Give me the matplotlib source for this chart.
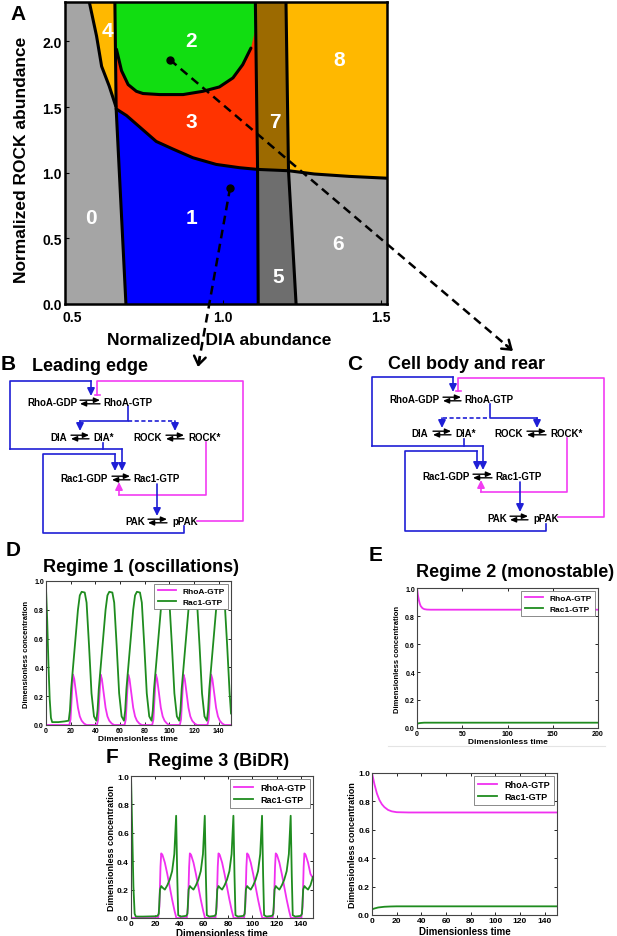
import matplotlib
matplotlib.use('Agg')
import matplotlib.pyplot as plt
from matplotlib.transforms import ScaledTranslation

plt.rcParams['font.family'] = ['Liberation Sans', 'DejaVu Sans']
plt.rcParams['font.weight'] = 'bold'
plt.rcParams['axes.labelweight'] = 'bold'

W, H = 617, 937

# ---------------- panel A: regime map (boundaries) ----------------
b04_x = [0.577, 0.600, 0.616, 0.640, 0.661]
b04_y = [2.3, 2.04, 1.81, 1.66, 1.505]
left_x = [0.658, 0.662, 0.693]
left_y = [2.3, 1.49, 0.0]
green_x = [0.660, 0.663, 0.679, 0.700, 0.726, 0.747, 0.800, 0.874, 0.937, 0.989, 1.032, 1.063, 1.089]
green_y = [2.3, 1.94, 1.777, 1.671, 1.62, 1.603, 1.595, 1.595, 1.62, 1.653, 1.722, 1.823, 1.949]
rb_x = [0.662, 0.695, 0.737, 0.789, 0.842, 0.905, 0.979, 1.053, 1.110]
rb_y = [1.486, 1.435, 1.347, 1.238, 1.18, 1.114, 1.063, 1.038, 1.025]
s7l_x, s7l_y = [1.103, 1.110], [2.3, 1.025]
s7r_x, s7r_y = [1.200, 1.208], [2.3, 1.015]
s5l_x, s5l_y = [1.110, 1.112], [1.025, 0.0]
s5r_x, s5r_y = [1.208, 1.232], [1.015, 0.0]
mid_x, mid_y = [1.110, 1.208], [1.025, 1.015]
b86_x = [1.208, 1.29, 1.40, 1.52]
b86_y = [1.015, 0.99, 0.972, 0.958]

reg_names = ['0', '1', '2', '3', '4', '5', '6', '7', '8']
reg_x = [0.583, 0.900, 0.900, 0.900, 0.633, 1.174, 1.364, 1.165, 1.367]
reg_y = [0.66, 0.66, 2.01, 1.39, 2.08, 0.21, 0.46, 1.39, 1.86]
dot_x = [0.832, 1.023]
dot_y = [1.861, 0.886]

# ---------------- time courses ----------------
d_rac_t = [0, 1, 2, 3, 4, 5, 10, 15,
           18.4, 19.4, 20.4, 21.9, 23.9, 25.9, 27.4, 28.9, 31.4, 32.9, 34.9, 36.9, 38.9,
           40.8, 41.8, 42.8, 44.3, 46.3, 48.3, 49.8, 51.3, 53.8, 55.3, 57.3, 59.3, 61.3,
           63.2, 64.2, 65.2, 66.7, 68.7, 70.7, 72.2, 73.7, 76.2, 77.7, 79.7, 81.7, 83.7,
           85.6, 86.6, 87.6, 89.1, 91.1, 93.1, 94.6, 96.1, 98.6, 100.1, 102.1, 104.1, 106.1,
           108.0, 109.0, 110.0, 111.5, 113.5, 115.5, 117.0, 118.5, 121.0, 122.5, 124.5, 126.5, 128.5,
           130.4, 131.4, 132.4, 133.9, 135.9, 137.9, 139.4, 140.9, 143.4, 144.9, 146.9, 148.9, 150.0]
d_rac = [0.95, 0.72, 0.42, 0.18, 0.05, 0.02, 0.02, 0.025,
         0.03, 0.1, 0.25, 0.4, 0.6, 0.8, 0.9, 0.925, 0.92, 0.85, 0.55, 0.22, 0.06,
         0.03, 0.1, 0.25, 0.4, 0.6, 0.8, 0.9, 0.925, 0.92, 0.85, 0.55, 0.22, 0.06,
         0.03, 0.1, 0.25, 0.4, 0.6, 0.8, 0.9, 0.925, 0.92, 0.85, 0.55, 0.22, 0.06,
         0.03, 0.1, 0.25, 0.4, 0.6, 0.8, 0.9, 0.925, 0.92, 0.85, 0.55, 0.22, 0.06,
         0.03, 0.1, 0.25, 0.4, 0.6, 0.8, 0.9, 0.925, 0.92, 0.85, 0.55, 0.22, 0.06,
         0.03, 0.1, 0.25, 0.4, 0.6, 0.8, 0.9, 0.925, 0.92, 0.85, 0.55, 0.22, 0.08]
d_rho_t = [0,
           18.9, 19.9, 20.9, 21.9, 22.9, 24.4, 25.9, 27.4, 28.9, 30.9, 32.9,
           41.3, 42.3, 43.3, 44.3, 45.3, 46.8, 48.3, 49.8, 51.3, 53.3, 55.3,
           63.7, 64.7, 65.7, 66.7, 67.7, 69.2, 70.7, 72.2, 73.7, 75.7, 77.7,
           86.1, 87.1, 88.1, 89.1, 90.1, 91.6, 93.1, 94.6, 96.1, 98.1, 100.1,
           108.5, 109.5, 110.5, 111.5, 112.5, 114.0, 115.5, 117.0, 118.5, 120.5, 122.5,
           130.9, 131.9, 132.9, 133.9, 134.9, 136.4, 137.9, 139.4, 140.9, 142.9, 144.9, 150.0]
d_rho = [0.0,
         0.0, 0.04, 0.2, 0.35, 0.32, 0.22, 0.12, 0.06, 0.03, 0.01, 0.0,
         0.0, 0.04, 0.2, 0.35, 0.32, 0.22, 0.12, 0.06, 0.03, 0.01, 0.0,
         0.0, 0.04, 0.2, 0.35, 0.32, 0.22, 0.12, 0.06, 0.03, 0.01, 0.0,
         0.0, 0.04, 0.2, 0.35, 0.32, 0.22, 0.12, 0.06, 0.03, 0.01, 0.0,
         0.0, 0.04, 0.2, 0.35, 0.32, 0.22, 0.12, 0.06, 0.03, 0.01, 0.0,
         0.0, 0.04, 0.2, 0.35, 0.32, 0.22, 0.12, 0.06, 0.03, 0.01, 0.0, 0.0]

e_rho_t = [0, 1, 2, 3, 4, 6, 8, 11, 15, 200]
e_rho = [1.0, 0.95, 0.915, 0.89, 0.872, 0.856, 0.849, 0.846, 0.845, 0.845]
e_rac_t = [0, 2, 4, 8, 200]
e_rac = [0.03, 0.034, 0.036, 0.038, 0.038]

f_rac_t = [0, 1, 2, 3, 4, 10, 20,
           21.9, 22.9, 23.9, 24.9, 25.9, 27.9, 29.9, 31.9, 33.9, 35.7, 37.2, 38.1, 38.9, 40.9,
           45.5, 46.5, 47.5, 48.5, 49.5, 51.5, 53.5, 55.5, 57.5, 59.3, 60.8, 61.7, 62.5, 64.5,
           69.1, 70.1, 71.1, 72.1, 73.1, 75.1, 77.1, 79.1, 81.1, 82.9, 84.4, 85.3, 86.1, 88.1,
           92.7, 93.7, 94.7, 95.7, 96.7, 98.7, 100.7, 102.7, 104.7, 106.5, 108.0, 108.9, 109.7, 111.7,
           116.3, 117.3, 118.3, 119.3, 120.3, 122.3, 124.3, 126.3, 128.3, 130.1, 131.6, 132.5, 133.3, 135.3,
           139.9, 140.9, 141.9, 142.9, 143.9, 145.9, 147.9, 150.0]
f_rac = [1.0, 0.62, 0.22, 0.03, 0.01, 0.01, 0.012,
         0.015, 0.03, 0.2, 0.225, 0.215, 0.2, 0.23, 0.27, 0.33, 0.45, 0.72, 0.3, 0.02, 0.01,
         0.015, 0.03, 0.2, 0.225, 0.215, 0.2, 0.23, 0.27, 0.33, 0.45, 0.72, 0.3, 0.02, 0.01,
         0.015, 0.03, 0.2, 0.225, 0.215, 0.2, 0.23, 0.27, 0.33, 0.45, 0.72, 0.3, 0.02, 0.01,
         0.015, 0.03, 0.2, 0.225, 0.215, 0.2, 0.23, 0.27, 0.33, 0.45, 0.72, 0.3, 0.02, 0.01,
         0.015, 0.03, 0.2, 0.225, 0.215, 0.2, 0.23, 0.27, 0.33, 0.45, 0.72, 0.3, 0.02, 0.01,
         0.015, 0.03, 0.2, 0.225, 0.215, 0.2, 0.23, 0.29]
f_rho_t = [0,
           22.4, 23.4, 24.3, 24.9, 25.9, 27.9, 29.9, 31.9, 33.9, 35.9, 37.4,
           46.0, 47.0, 47.9, 48.5, 49.5, 51.5, 53.5, 55.5, 57.5, 59.5, 61.0,
           69.6, 70.6, 71.5, 72.1, 73.1, 75.1, 77.1, 79.1, 81.1, 83.1, 84.6,
           93.2, 94.2, 95.1, 95.7, 96.7, 98.7, 100.7, 102.7, 104.7, 106.7, 108.2,
           116.8, 117.8, 118.7, 119.3, 120.3, 122.3, 124.3, 126.3, 128.3, 130.3, 131.8,
           140.4, 141.4, 142.3, 142.9, 143.9, 145.9, 147.9, 150.0]
f_rho = [0.0,
         0.0, 0.08, 0.36, 0.455, 0.445, 0.39, 0.31, 0.22, 0.13, 0.05, 0.0,
         0.0, 0.08, 0.36, 0.455, 0.445, 0.39, 0.31, 0.22, 0.13, 0.05, 0.0,
         0.0, 0.08, 0.36, 0.455, 0.445, 0.39, 0.31, 0.22, 0.13, 0.05, 0.0,
         0.0, 0.08, 0.36, 0.455, 0.445, 0.39, 0.31, 0.22, 0.13, 0.05, 0.0,
         0.0, 0.08, 0.36, 0.455, 0.445, 0.39, 0.31, 0.22, 0.13, 0.05, 0.0,
         0.0, 0.08, 0.36, 0.455, 0.445, 0.39, 0.31, 0.28]

g_rho_t = [0, 1, 2, 4, 6, 8, 10, 13, 16, 20, 30, 150]
g_rho = [1.0, 0.96, 0.92, 0.855, 0.81, 0.78, 0.76, 0.74, 0.73, 0.724, 0.722, 0.722]
g_rac_t = [0, 2, 5, 10, 15, 20, 150]
g_rac = [0.04, 0.046, 0.053, 0.058, 0.06, 0.061, 0.061]

MAG = '#f030f0'
GRN = '#1f8c1f'
BLUE = '#1f1fd6'
PINK = '#f23cf2'

fig = plt.figure(figsize=(W / 100, H / 100), dpi=100)


def px_axes(l, t, r, b):
    return fig.add_axes([l / W, 1 - b / H, (r - l) / W, (b - t) / H])


# ---- A ----
axA = px_axes(65, 3, 387, 305)
axA.set_facecolor('#a5a5a5')
axA.fill(b04_x + [0.658], b04_y + [2.3], color='#ffb800', lw=0)
axA.fill([0.658, 1.103, 1.110] + rb_x[::-1], [2.3, 2.3, 1.025] + rb_y[::-1], color='#ff3300', lw=0)
axA.fill(green_x + [1.104, 1.103], green_y + [2.1, 2.3], color='#11dd11', lw=0)
axA.fill(rb_x + [1.112, 0.693], rb_y + [0, 0], color='#0000ff', lw=0)
axA.fill([1.103, 1.200, 1.208, 1.110], [2.3, 2.3, 1.015, 1.025], color='#9c6a00', lw=0)
axA.fill([1.110, 1.208, 1.232, 1.112], [1.025, 1.015, 0, 0], color='#6e6e6e', lw=0)
axA.fill([1.200, 1.52] + b86_x[::-1], [2.3, 2.3] + b86_y[::-1], color='#ffb800', lw=0)
for xs, ys in [(b04_x, b04_y), (left_x, left_y), (green_x[1:], green_y[1:]), (rb_x, rb_y),
               (s7l_x, s7l_y), (s7r_x, s7r_y), (s5l_x, s5l_y), (s5r_x, s5r_y),
               (mid_x, mid_y), (b86_x, b86_y)]:
    axA.plot(xs, ys, color='k', lw=2.2, solid_capstyle='round')
for n, x, y in zip(reg_names, reg_x, reg_y):
    axA.text(x, y, n, color='white', fontsize=15, ha='center', va='center')
axA.plot(dot_x, dot_y, 'o', color='k', ms=5, ls='none', zorder=5)
axA.set_xlim(0.5, 1.52)
axA.set_ylim(0, 2.3)
axA.set_xticks([0.5, 1.0, 1.5])
axA.set_yticks([0.0, 0.5, 1.0, 1.5, 2.0])
axA.tick_params(direction='in', length=3, width=0.8, labelsize=10)
axA.tick_params(axis='x', pad=4)
axA.tick_params(axis='y', pad=2.5)
for s in axA.spines.values():
    s.set_linewidth(1.8)
# first x label sits a little right of its tick, as in the original
lab0 = axA.xaxis.get_major_ticks()[0].label1
lab0.set_transform(lab0.get_transform() + ScaledTranslation(0.07, 0, fig.dpi_scale_trans))
axA.set_xlabel('Normalized DIA abundance', fontsize=12.5)
axA.set_ylabel('Normalized ROCK abundance', fontsize=12.5)
axA.xaxis.set_label_coords(0.478, -0.093)
axA.yaxis.set_label_coords(-0.113, 0.48)


def ts_axes(rect, xlim, xticks, fs, lfs, rho_t, rho, rac_t, rac):
    ax = px_axes(*rect)
    ax.plot(rho_t, rho, color=MAG, lw=1.3, label='RhoA-GTP')
    ax.plot(rac_t, rac, color=GRN, lw=1.3, label='Rac1-GTP')
    ax.set_xlim(*xlim)
    ax.set_ylim(0, 1.0)
    ax.set_xticks(xticks)
    ax.set_yticks([0.0, 0.2, 0.4, 0.6, 0.8, 1.0])
    ax.tick_params(direction='in', top=True, right=True, length=2.5, width=0.6,
                   labelsize=fs, pad=1.5)
    for s in ax.spines.values():
        s.set_linewidth(0.8)
        s.set_color('#444444')
    leg = ax.legend(loc='upper right', fontsize=lfs, fancybox=False, edgecolor='#777777',
                    framealpha=1, borderaxespad=0.35, handlelength=2.2, borderpad=0.4,
                    labelspacing=0.35)
    leg.get_frame().set_linewidth(0.6)
    ax.set_xlabel('Dimensionless time', fontsize=fs + 1)
    ax.set_ylabel('Dimensionless concentration', fontsize=fs + 0.5)
    return ax


axD = ts_axes((46, 582, 231, 726), (0, 150), range(0, 141, 20), 5, 6, d_rho_t, d_rho, d_rac_t, d_rac)
axD.xaxis.set_label_coords(0.497, -0.069)
axD.yaxis.set_label_coords(-0.084, 0.5)
axE = ts_axes((417, 589, 598, 729), (0, 200), range(0, 201, 50), 5, 6, e_rho_t, e_rho, e_rac_t, e_rac)
axE.xaxis.set_label_coords(0.5, -0.071)
axE.yaxis.set_label_coords(-0.086, 0.5)
axF1 = ts_axes((131, 777, 313, 919), (0, 150), range(0, 141, 20), 6, 6.5, f_rho_t, f_rho, f_rac_t, f_rac)
axF1.xaxis.set_label_coords(0.5, -0.067)
axF1.yaxis.set_label_coords(-0.082, 0.5)
axF2 = ts_axes((372, 774, 557, 916), (0, 150), range(0, 141, 20), 6, 6.5, g_rho_t, g_rho, g_rac_t, g_rac)
axF2.xaxis.set_label_coords(0.5, -0.074)
axF2.yaxis.set_label_coords(-0.081, 0.5)

# ---- overlay in pixel units for the schemes, letters and the dashed arrows ----
ov = fig.add_axes([0, 0, 1, 1], zorder=10)
ov.set_xlim(0, W)
ov.set_ylim(H, 0)
ov.axis('off')


def wire(pts, color, end='arrow', ls='-'):
    xs = [p[0] for p in pts]
    ys = [p[1] for p in pts]
    if end == 'arrow':
        ov.plot(xs[:-1], ys[:-1], color=color, lw=1.2, ls=ls, dashes=(2.5, 1.5) if ls == '--' else (None, None))
        ov.annotate('', xy=pts[-1], xytext=pts[-2],
                    arrowprops=dict(arrowstyle='-|>,head_length=0.45,head_width=0.22', color=color,
                                    lw=1.2, shrinkA=0, shrinkB=0, mutation_scale=10))
    else:
        ov.plot(xs, ys, color=color, lw=1.2, ls=ls)
        if end == 'bar':
            ov.plot([xs[-1] - 2.5, xs[-1] + 2.5], [ys[-1], ys[-1]], color=color, lw=1.2)


def rxn(x0, x1, y):
    st = dict(arrowstyle='-|>,head_length=0.5,head_width=0.22', color='k', lw=1.0,
              shrinkA=0, shrinkB=0, mutation_scale=7)
    ov.annotate('', xy=(x1, y - 1.8), xytext=(x0, y - 1.8), arrowprops=st)
    ov.annotate('', xy=(x0, y + 1.8), xytext=(x1, y + 1.8), arrowprops=st)


def species(x, y, s, ha):
    ov.text(x, y, s, fontsize=7, ha=ha, va='center')


def scheme(t):
    # t: dict of anchor positions for one scheme
    for (xr, xa, xb, xl, y, a, b) in t['rows']:
        species(xr, y, a, 'right')
        rxn(xa, xb, y)
        species(xl, y, b, 'left')
    for pts, col, end, ls in t['wires']:
        wire(pts, col, end, ls)


schemeB = {
    'rows': [(78, 80, 100, 103, 403, 'RhoA-GDP', 'RhoA-GTP'),
             (67, 71, 89, 93, 438, 'DIA', 'DIA*'),
             (162, 166, 184, 188, 438, 'ROCK', 'ROCK*'),
             (108, 112, 130, 133, 479, 'Rac1-GDP', 'Rac1-GTP'),
             (145, 148, 167, 172, 522, 'PAK', 'pPAK')],
    'wires': [([(184, 527), (184, 534), (43, 534), (43, 455), (115, 455), (115, 472)], BLUE, 'arrow', '-'),
              ([(10, 450), (10, 382), (91, 382), (91, 397)], BLUE, 'arrow', '-'),
              ([(10, 450), (122, 450), (122, 472)], BLUE, 'arrow', '-'),
              ([(103, 444), (103, 450)], BLUE, None, '-'),
              ([(128, 407), (128, 422), (80, 422), (80, 432)], BLUE, 'arrow', '-'),
              ([(128, 422), (175, 422), (175, 432)], BLUE, 'arrow', '--'),
              ([(157, 485), (157, 517)], BLUE, 'arrow', '-'),
              ([(197, 522), (243, 522), (243, 382), (97, 382), (97, 396)], PINK, 'bar', '-'),
              ([(206, 443), (206, 496), (119, 496), (119, 483)], PINK, 'arrow', '-')],
}
schemeC = {
    'rows': [(440, 443, 461, 464, 400, 'RhoA-GDP', 'RhoA-GTP'),
             (428, 433, 451, 455, 434, 'DIA', 'DIA*'),
             (523, 527, 546, 550, 434, 'ROCK', 'ROCK*'),
             (470, 473, 492, 495, 477, 'Rac1-GDP', 'Rac1-GTP'),
             (507, 510, 528, 533, 519, 'PAK', 'pPAK')],
    'wires': [([(546, 525), (546, 532), (405, 532), (405, 452), (477, 452), (477, 471)], BLUE, 'arrow', '-'),
              ([(372, 447), (372, 378), (453, 378), (453, 393)], BLUE, 'arrow', '-'),
              ([(372, 447), (483, 447), (483, 471)], BLUE, 'arrow', '-'),
              ([(464, 440), (464, 447)], BLUE, None, '-'),
              ([(490, 405), (490, 419), (537, 419), (537, 429)], BLUE, 'arrow', '-'),
              ([(487, 419), (442, 419), (442, 429)], BLUE, 'arrow', '--'),
              ([(520, 483), (520, 513)], BLUE, 'arrow', '-'),
              ([(558, 518), (604, 518), (604, 379), (458, 379), (458, 392)], PINK, 'bar', '-'),
              ([(567, 439), (567, 493), (481, 493), (481, 481)], PINK, 'arrow', '-')],
}
scheme(schemeB)
scheme(schemeC)

# letters and titles
for s, x, y in [('A', 18, 14), ('B', 8, 365), ('C', 355, 365), ('D', 13, 551), ('E', 376, 556), ('F', 112, 758)]:
    ov.text(x, y, s, fontsize=15, ha='center', va='center')
ov.text(32, 367, 'Leading edge', fontsize=13, ha='left', va='center')
ov.text(388, 365, 'Cell body and rear', fontsize=13, ha='left', va='center')
ov.text(141, 568, 'Regime 1 (oscillations)', fontsize=13, ha='center', va='center')
ov.text(515, 573, 'Regime 2 (monostable)', fontsize=13, ha='center', va='center')
ov.text(219, 762, 'Regime 3 (BiDR)', fontsize=13, ha='center', va='center')
ov.plot([388, 605], [747, 747], color='#e4e4e4', lw=0.8)

# dashed arrows from the two points of A
tips = [(513, 352), (198, 368)]
for x, y, tip in zip(dot_x, dot_y, tips):
    sx, sy = ov.transData.inverted().transform(axA.transData.transform((x, y)))
    dx, dy = tip[0] - sx, tip[1] - sy
    n = (dx ** 2 + dy ** 2) ** 0.5
    ux, uy = dx / n, dy / n
    ov.plot([sx, tip[0] - 6 * ux], [sy, tip[1] - 6 * uy], color='k', lw=1.8, ls='--', dashes=(3.5, 2.2))
    ov.annotate('', xy=tip, xytext=(tip[0] - 9 * ux, tip[1] - 9 * uy),
                arrowprops=dict(arrowstyle='->,head_length=0.5,head_width=0.35', color='k', lw=1.8,
                                shrinkA=0, shrinkB=0, mutation_scale=12))

fig.savefig('out.png', dpi=100)
